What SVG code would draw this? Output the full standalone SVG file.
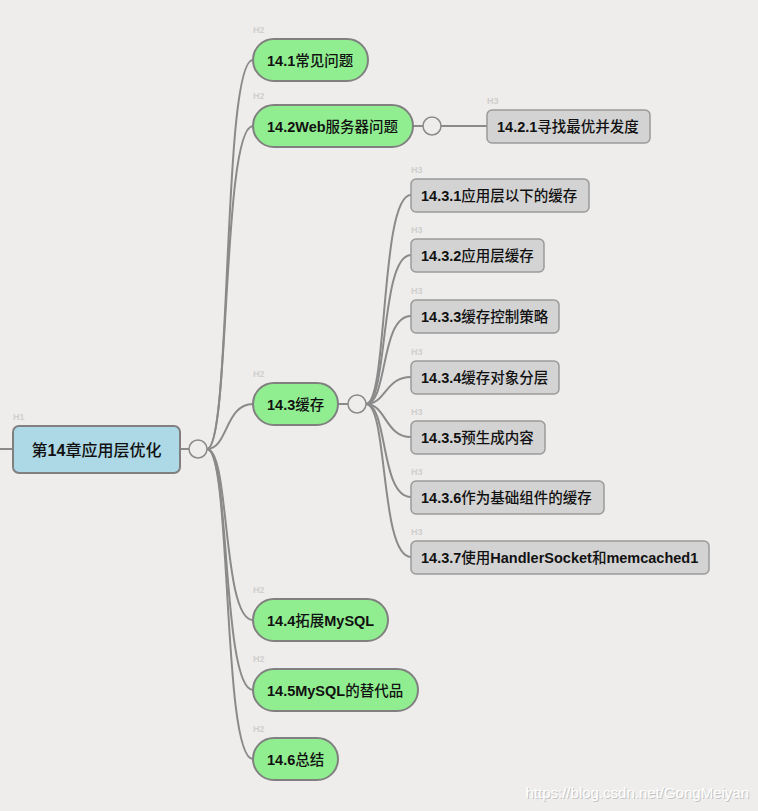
<svg xmlns="http://www.w3.org/2000/svg" width="758" height="811" viewBox="0 0 758 811">
<style>
.lbl{font-family:"Liberation Sans",Arial,sans-serif;font-size:9px;font-weight:bold;fill:#cfcfcf}
.t{font-family:"Liberation Sans","Noto Sans CJK SC",sans-serif;font-size:14.5px;font-weight:bold;fill:#111}
.z{font-family:"Noto Sans CJK SC",sans-serif;font-weight:500}
.h2{fill:#90ee90;stroke:#808080;stroke-width:2}
.h3{fill:#d3d3d3;stroke:#9a9a9a;stroke-width:1.5}
.c{fill:none;stroke:#8a8a8a;stroke-width:2}
.k{fill:#eeedeb;stroke:#8a8a8a;stroke-width:1.5}
.wm{font-family:"Liberation Sans",Arial,sans-serif;font-size:15px}
</style>
<rect width="758" height="811" fill="#eeedeb"/>
<g id="connectors">
<path class="c" d="M0,449 H13"/>
<path class="c" d="M180,449 H189"/>
<path class="c" d="M207,449 C232,449 222,60 253,60"/>
<path class="c" d="M207,449 C230,449 222,126 253,126"/>
<path class="c" d="M207,449 C228,449 225,404 253,404"/>
<path class="c" d="M207,449 C230,449 222,620 253,620"/>
<path class="c" d="M207,449 C230,449 222,690 253,690"/>
<path class="c" d="M207,449 C232,449 222,759 253,759"/>
<path class="c" d="M413,126 H423 M441,126 H487"/>
<path class="c" d="M338,404 H348"/>
<path class="c" d="M366,404 C388,404 380,195 411,195"/>
<path class="c" d="M366,404 C388,404 380,255 411,255"/>
<path class="c" d="M366,404 C388,404 380,316 411,316"/>
<path class="c" d="M366,404 C386,404 385,377 411,377"/>
<path class="c" d="M366,404 C386,404 385,437 411,437"/>
<path class="c" d="M366,404 C388,404 380,497 411,497"/>
<path class="c" d="M366,404 C388,404 380,557 411,557"/>
<circle class="k" cx="198" cy="449" r="9"/>
<circle class="k" cx="432" cy="126" r="9"/>
<circle class="k" cx="357" cy="404" r="9"/>
</g>
<g id="root">
<text class="lbl" x="13" y="420">H1</text>
<rect x="13" y="426" width="167" height="47" rx="6" fill="#add8e6" stroke="#808080" stroke-width="2"/>
<text class="t" x="96.5" y="455.5" text-anchor="middle" style="font-size:16px"><tspan class="z">第</tspan>14<tspan class="z">章应用层优化</tspan></text>
</g>
<g id="n14_1">
<text class="lbl" x="253" y="33">H2</text>
<rect class="h2" x="253" y="39" width="115" height="42" rx="21"/>
<text class="t" x="267" y="65.5">14.1<tspan class="z">常见问题</tspan></text>
</g>
<g id="n14_2">
<text class="lbl" x="253" y="99">H2</text>
<rect class="h2" x="253" y="105" width="160" height="42" rx="21"/>
<text class="t" x="267" y="131.5">14.2Web<tspan class="z">服务器问题</tspan></text>
</g>
<g id="n14_2_1">
<text class="lbl" x="487" y="104">H3</text>
<rect class="h3" x="487" y="110" width="163" height="33" rx="5"/>
<text class="t" x="497" y="132">14.2.1<tspan class="z">寻找最优并发度</tspan></text>
</g>
<g id="n14_3">
<text class="lbl" x="253" y="377">H2</text>
<rect class="h2" x="253" y="383" width="85" height="42" rx="21"/>
<text class="t" x="267" y="409.5">14.3<tspan class="z">缓存</tspan></text>
</g>
<g id="n14_3_1">
<text class="lbl" x="411" y="173">H3</text>
<rect class="h3" x="411" y="179" width="178" height="33" rx="5"/>
<text class="t" x="421" y="201">14.3.1<tspan class="z">应用层以下的缓存</tspan></text>
</g>
<g id="n14_3_2">
<text class="lbl" x="411" y="233">H3</text>
<rect class="h3" x="411" y="239" width="133" height="33" rx="5"/>
<text class="t" x="421" y="261">14.3.2<tspan class="z">应用层缓存</tspan></text>
</g>
<g id="n14_3_3">
<text class="lbl" x="411" y="294">H3</text>
<rect class="h3" x="411" y="300" width="148" height="33" rx="5"/>
<text class="t" x="421" y="322">14.3.3<tspan class="z">缓存控制策略</tspan></text>
</g>
<g id="n14_3_4">
<text class="lbl" x="411" y="355">H3</text>
<rect class="h3" x="411" y="361" width="148" height="33" rx="5"/>
<text class="t" x="421" y="383">14.3.4<tspan class="z">缓存对象分层</tspan></text>
</g>
<g id="n14_3_5">
<text class="lbl" x="411" y="415">H3</text>
<rect class="h3" x="411" y="421" width="134" height="33" rx="5"/>
<text class="t" x="421" y="443">14.3.5<tspan class="z">预生成内容</tspan></text>
</g>
<g id="n14_3_6">
<text class="lbl" x="411" y="475">H3</text>
<rect class="h3" x="411" y="481" width="193" height="33" rx="5"/>
<text class="t" x="421" y="503">14.3.6<tspan class="z">作为基础组件的缓存</tspan></text>
</g>
<g id="n14_3_7">
<text class="lbl" x="411" y="535">H3</text>
<rect class="h3" x="411" y="541" width="298" height="33" rx="5"/>
<text class="t" x="421" y="563">14.3.7<tspan class="z">使用</tspan>HandlerSocket<tspan class="z">和</tspan>memcached1</text>
</g>
<g id="n14_4">
<text class="lbl" x="253" y="593">H2</text>
<rect class="h2" x="253" y="599" width="135" height="42" rx="21"/>
<text class="t" x="267" y="625.5">14.4<tspan class="z">拓展</tspan>MySQL</text>
</g>
<g id="n14_5">
<text class="lbl" x="253" y="662">H2</text>
<rect class="h2" x="253" y="669" width="165" height="42" rx="21"/>
<text class="t" x="267" y="695.5">14.5MySQL<tspan class="z">的替代品</tspan></text>
</g>
<g id="n14_6">
<text class="lbl" x="253" y="732">H2</text>
<rect class="h2" x="253" y="738" width="85" height="42" rx="21"/>
<text class="t" x="267" y="764.5">14.6<tspan class="z">总结</tspan></text>
</g>
<text class="wm" x="750" y="799" text-anchor="end" fill="#c4c4c4">https://blog.csdn.net/GongMeiyan</text>
<text class="wm" x="749" y="798" text-anchor="end" fill="#ffffff">https://blog.csdn.net/GongMeiyan</text>
</svg>
